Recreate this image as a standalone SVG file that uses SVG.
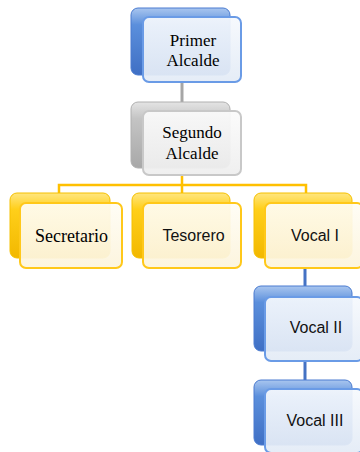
<svg xmlns="http://www.w3.org/2000/svg" width="360" height="452" viewBox="0 0 360 452">
<defs>
<linearGradient id="gBlue" x1="0" y1="0" x2="0" y2="1"><stop offset="0" stop-color="#a9c6ef"/><stop offset="0.25" stop-color="#5b8fdc"/><stop offset="1" stop-color="#3f6fc4"/></linearGradient>
<linearGradient id="gYel" x1="0" y1="0" x2="0" y2="1"><stop offset="0" stop-color="#ffe680"/><stop offset="0.25" stop-color="#ffcf1a"/><stop offset="1" stop-color="#f2b800"/></linearGradient>
<linearGradient id="gGray" x1="0" y1="0" x2="0" y2="1"><stop offset="0" stop-color="#e4e4e4"/><stop offset="0.25" stop-color="#c4c4c4"/><stop offset="1" stop-color="#a8a8a8"/></linearGradient>
<linearGradient id="fBlue" x1="0" y1="0" x2="0" y2="1"><stop offset="0" stop-color="#f6f9fd"/><stop offset="1" stop-color="#e3ebf6"/></linearGradient>
<linearGradient id="fYel" x1="0" y1="0" x2="0" y2="1"><stop offset="0" stop-color="#fffdf5"/><stop offset="1" stop-color="#fcf4dc"/></linearGradient>
<linearGradient id="fGray" x1="0" y1="0" x2="0" y2="1"><stop offset="0" stop-color="#fbfbfb"/><stop offset="1" stop-color="#eeeeee"/></linearGradient>
</defs>
<style>
.back{stroke-width:1}
.bb{fill:url(#gBlue);stroke:#4a7bd0}
.by{fill:url(#gYel);stroke:#f5c000}
.bg{fill:url(#gGray);stroke:#b0b0b0}
.front{stroke-width:2;fill-opacity:0.93}
.fb{fill:url(#fBlue);stroke:#6a9be6}
.fy{fill:url(#fYel);stroke:#ffc81a}
.fg{fill:url(#fGray);stroke:#c8c8c8}
.serif{font-family:"Liberation Serif","Times New Roman",serif;font-size:17px;fill:#000;text-anchor:middle}
.sans{font-family:"Liberation Sans",Arial,sans-serif;font-size:16px;fill:#111;text-anchor:middle}
.cg{stroke:#a6a6a6;stroke-width:3;fill:none}
.cy{stroke:#ffc000;stroke-width:2.5;fill:none}
.cb{stroke:#4472c4;stroke-width:3;fill:none}
</style>
<g id="connectors">
<path class="cg" d="M182 82V102"/>
<path class="cy" d="M182 175V185M59 193V185H306V193M182 185V193"/>
<path class="cb" d="M305 268V297M305 361V389"/>
</g>
<g id="primer">
<rect class="back bb" x="131" y="8" width="99" height="67" rx="7"/>
<rect class="front fb" x="143" y="17" width="98" height="65" rx="6"/>
<text class="serif" x="193" y="46">Primer</text>
<text class="serif" x="193" y="66">Alcalde</text>
</g>
<g id="segundo">
<rect class="back bg" x="131" y="102" width="99" height="66" rx="7"/>
<rect class="front fg" x="143" y="111" width="98" height="64" rx="6"/>
<text class="serif" x="192" y="138">Segundo</text>
<text class="serif" x="192" y="159">Alcalde</text>
</g>
<g id="secretario">
<rect class="back by" x="10" y="193" width="100" height="65" rx="7"/>
<rect class="front fy" x="20" y="203" width="102" height="65" rx="6"/>
<text class="serif" x="71.5" y="242" style="font-size:18px">Secretario</text>
</g>
<g id="tesorero">
<rect class="back by" x="132" y="193" width="98" height="65" rx="7"/>
<rect class="front fy" x="143" y="203" width="98" height="65" rx="6"/>
<text class="sans" x="193.5" y="241">Tesorero</text>
</g>
<g id="vocal1">
<rect class="back by" x="254" y="193" width="98" height="65" rx="7"/>
<rect class="front fy" x="265" y="203" width="98" height="65" rx="6"/>
<text class="sans" x="315" y="241">Vocal I</text>
</g>
<g id="vocal2">
<rect class="back bb" x="254" y="286" width="98" height="65" rx="7"/>
<rect class="front fb" x="265" y="297" width="98" height="64" rx="6"/>
<text class="sans" x="316" y="333">Vocal II</text>
</g>
<g id="vocal3">
<rect class="back bb" x="254" y="380" width="98" height="65" rx="7"/>
<rect class="front fb" x="265" y="389" width="98" height="64" rx="6"/>
<text class="sans" x="315" y="426">Vocal III</text>
</g>
</svg>
